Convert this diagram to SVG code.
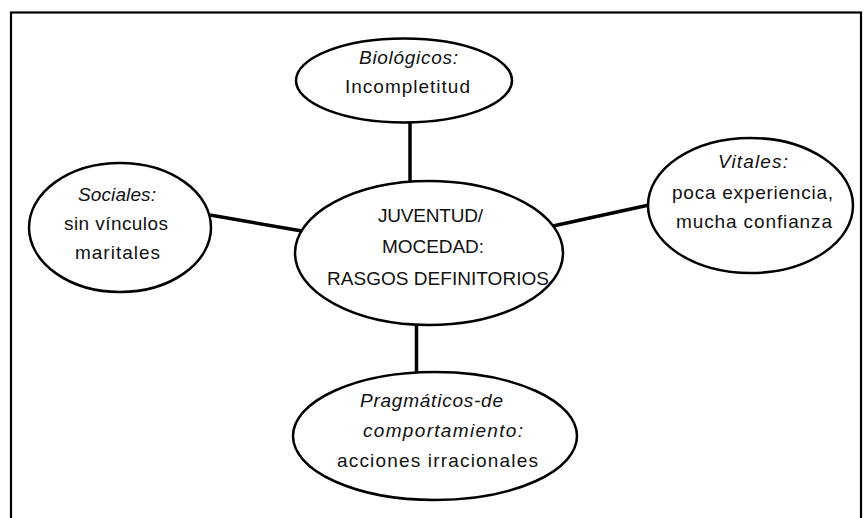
<svg xmlns="http://www.w3.org/2000/svg" width="868" height="518" viewBox="0 0 868 518">
<style>
.node ellipse{fill:#fff;stroke:#000;stroke-width:2.5}
text{font-family:"Liberation Sans",Arial,sans-serif;font-size:19px;fill:#111}
.it{font-style:italic}
.conn line{stroke:#000;stroke-width:3.5}
</style>
<rect x="11" y="12.5" width="850" height="520" fill="#fff" stroke="#000" stroke-width="2.2"/>
<g id="connectors" class="conn">
<line x1="410" y1="122" x2="410" y2="182"/>
<line x1="416.5" y1="324" x2="416.5" y2="373"/>
<line x1="210" y1="215" x2="302" y2="231"/>
<line x1="553" y1="226" x2="649" y2="205"/>
</g>
<g id="center" class="node">
<ellipse cx="429" cy="253" rx="134" ry="72"/>
<text x="378" y="221.5" textLength="105">JUVENTUD/</text>
<text x="382" y="252.5" textLength="102">MOCEDAD:</text>
<text x="327" y="284.5" textLength="222">RASGOS DEFINITORIOS</text>
</g>
<g id="biologicos" class="node">
<ellipse cx="404" cy="80.5" rx="108" ry="42"/>
<text class="it" x="359" y="64" textLength="99">Biológicos:</text>
<text x="345" y="93" textLength="125">Incompletitud</text>
</g>
<g id="vitales" class="node">
<ellipse cx="750.5" cy="205.5" rx="102.5" ry="67.5"/>
<text class="it" x="718" y="168" textLength="70">Vitales:</text>
<text x="672" y="198.5" textLength="161">poca experiencia,</text>
<text x="676" y="227.5" textLength="156">mucha confianza</text>
</g>
<g id="sociales" class="node">
<ellipse cx="120" cy="227.5" rx="91" ry="64.5"/>
<text class="it" x="78" y="200.5" textLength="78">Sociales:</text>
<text x="64" y="229.5" textLength="104">sin vínculos</text>
<text x="75" y="258.5" textLength="85">maritales</text>
</g>
<g id="pragmaticos" class="node">
<ellipse cx="435" cy="436" rx="142" ry="64"/>
<text class="it" x="360" y="406.5" textLength="143">Pragmáticos-de</text>
<text class="it" x="363" y="436.5" textLength="160">comportamiento:</text>
<text x="337" y="466.5" textLength="201">acciones irracionales</text>
</g>
</svg>
